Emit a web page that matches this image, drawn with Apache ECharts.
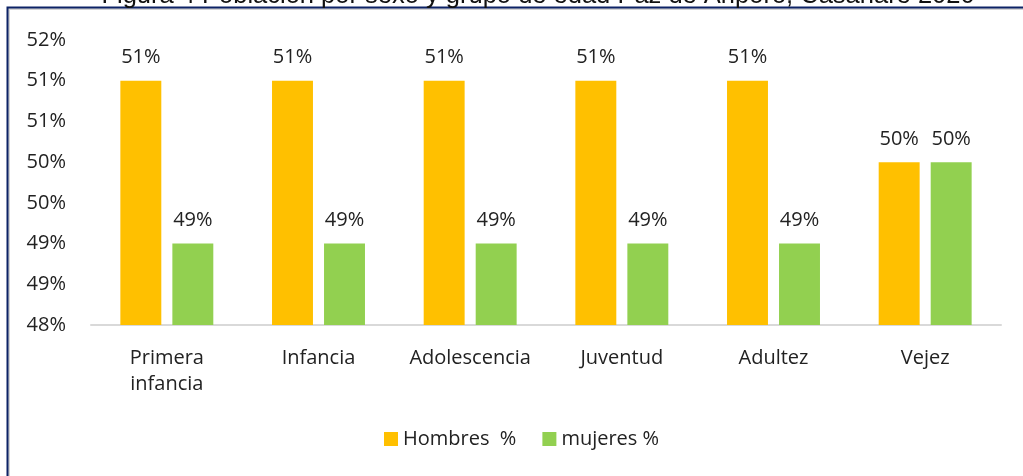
<!DOCTYPE html>
<html>
<head>
<meta charset="utf-8">
<script src="https://cdn.jsdelivr.net/npm/echarts@6/dist/echarts.min.js"></script>
<style>
  html, body { margin: 0; padding: 0; background: #fff; }
  #chart { width: 1023px; height: 476px; }
</style>
</head>
<body>
<div id="chart"></div>
<script>
// Población por sexo y grupo de edad
var categories = ['Primera\ninfancia', 'Infancia', 'Adolescencia', 'Juventud', 'Adultez', 'Vejez'];
var hombres = [51, 51, 51, 51, 51, 50];
var mujeres = [49, 49, 49, 49, 49, 50];
var yTicks = ['48%', '49%', '49%', '50%', '50%', '51%', '51%', '52%'];
var yMin = 48, yMax = 51.5, yStep = 0.5;

var FONT = '"Open Sans", sans-serif';
var FS = 20;

var chart = echarts.init(document.getElementById('chart'));

chart.setOption({
  animation: false,
  textStyle: { fontFamily: FONT },
  graphic: [
    {
      type: 'rect',
      shape: { x: 9, y: 9, width: 1100, height: 600 },
      style: { fill: 'none', stroke: '#d4d4d4', lineWidth: 2 }
    },
    {
      type: 'rect',
      shape: { x: 7.5, y: 7.5, width: 1100, height: 600 },
      style: { fill: 'none', stroke: '#0d2366', lineWidth: 2 }
    },
    {
      type: 'text',
      x: 538, y: 9,
      style: {
        text: 'Figura 4 Población por sexo y grupo de edad Paz de Ariporo, Casanare 2020',
        fontFamily: '"Liberation Sans", Arial, sans-serif',
        fontSize: 25.5,
        fill: '#111',
        textAlign: 'center',
        textVerticalAlign: 'bottom'
      }
    }
  ],
  grid: { left: 91, right: 22, top: 40, bottom: 151 },
  legend: {
    bottom: 22,
    left: 379,
    itemWidth: 14,
    itemHeight: 14,
    itemGap: 26,
    icon: 'rect',
    textStyle: { fontSize: FS, color: '#222', fontFamily: FONT },
    data: ['Hombres  %', 'mujeres %']
  },
  xAxis: {
    type: 'category',
    data: categories,
    axisLine: { lineStyle: { color: '#d9d9d9', width: 2 } },
    axisTick: { show: false },
    axisLabel: { interval: 0, fontSize: FS, fontFamily: FONT, color: '#222', margin: 20, lineHeight: 26 }
  },
  yAxis: {
    type: 'value',
    min: yMin,
    max: yMax,
    interval: yStep,
    axisLine: { show: false },
    axisTick: { show: false },
    splitLine: { show: false },
    axisLabel: {
      fontSize: FS,
      fontFamily: FONT,
      color: '#222',
      margin: 25,
      formatter: function (v) {
        return yTicks[Math.round((v - yMin) / yStep)];
      }
    }
  },
  series: [
    {
      name: 'Hombres  %',
      type: 'bar',
      data: hombres,
      barWidth: '27%',
      barGap: '27%',
      itemStyle: { color: '#ffc000' },
      label: { show: true, position: 'top', distance: 13, fontSize: FS, fontFamily: FONT, color: '#222', formatter: '{c}%' }
    },
    {
      name: 'mujeres %',
      type: 'bar',
      data: mujeres,
      barWidth: '27%',
      itemStyle: { color: '#92d050' },
      label: { show: true, position: 'top', distance: 13, fontSize: FS, fontFamily: FONT, color: '#222', formatter: '{c}%' }
    }
  ]
});
</script>
</body>
</html>
